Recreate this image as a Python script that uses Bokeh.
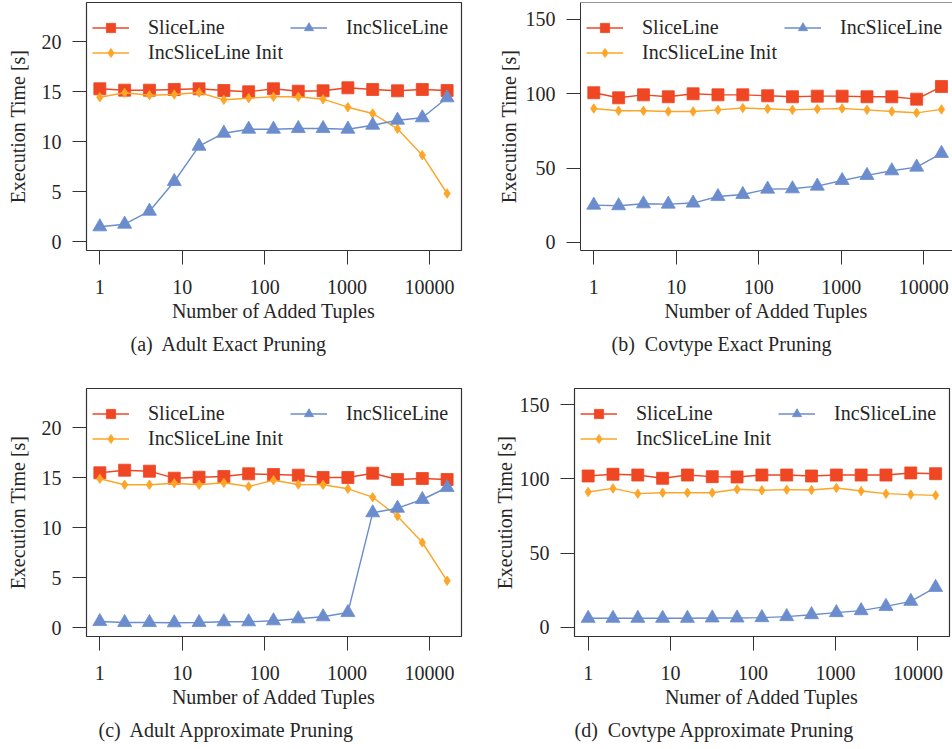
from bokeh.plotting import figure
from bokeh.layouts import column, row
from bokeh.models import (Range1d, FixedTicker, PrintfTickFormatter, Legend,
                          LegendItem, Title, Span)
from bokeh.embed import file_html
from bokeh.resources import INLINE

# ---------------- data ----------------
tuples = [1, 2, 4, 8, 16, 32, 64, 128, 256, 512, 1024, 2048, 4096, 8192, 16384]
x_ticks = [1, 10, 100, 1000, 10000]
y_ticks_adult = [0, 5, 10, 15, 20]
y_ticks_cov = [0, 50, 100, 150]

a_sliceline = [15.27, 15.13, 15.13, 15.2, 15.27, 15.1, 14.97, 15.27, 15.03, 15.07, 15.37, 15.2, 15.07, 15.2, 15.1]
a_init = [14.43, 14.87, 14.63, 14.7, 14.9, 14.17, 14.33, 14.47, 14.47, 14.23, 13.43, 12.8, 11.27, 8.63, 4.8]
a_inc = [1.47, 1.73, 3.03, 6.0, 9.53, 10.83, 11.23, 11.23, 11.3, 11.3, 11.23, 11.63, 12.13, 12.37, 14.37]

b_sliceline = [100.7, 97.3, 99.3, 98.0, 100.0, 99.3, 99.3, 98.65, 98.0, 98.4, 98.4, 98.0, 98.0, 96.4, 104.9]
b_init = [90.1, 88.6, 88.6, 88.1, 88.1, 89.2, 90.4, 89.9, 89.2, 89.7, 90.1, 89.2, 88.1, 87.2, 89.5]
b_inc = [25.1, 24.7, 26.0, 25.8, 26.5, 30.9, 32.3, 35.9, 36.1, 37.9, 41.7, 45.1, 48.2, 50.7, 59.9]

c_sliceline = [15.47, 15.73, 15.63, 14.93, 15.03, 15.1, 15.37, 15.3, 15.23, 15.0, 15.0, 15.43, 14.8, 14.9, 14.8]
c_init = [14.87, 14.27, 14.27, 14.43, 14.27, 14.47, 14.1, 14.73, 14.3, 14.27, 13.87, 13.03, 11.13, 8.5, 4.67]
c_inc = [0.6, 0.5, 0.5, 0.47, 0.5, 0.57, 0.57, 0.67, 0.87, 1.07, 1.5, 11.47, 11.93, 12.8, 14.0]

d_sliceline = [101.95, 103.1, 102.6, 100.4, 102.6, 101.5, 101.3, 102.6, 102.6, 101.95, 102.6, 102.6, 102.6, 104.0, 103.5]
d_init = [91.2, 93.6, 90.05, 90.7, 90.7, 90.7, 93.0, 92.3, 92.75, 92.5, 93.9, 91.8, 90.05, 89.4, 88.9]
d_inc = [6.06, 6.06, 6.06, 6.06, 6.06, 6.29, 6.29, 6.5, 7.2, 8.5, 9.9, 11.2, 14.1, 17.5, 26.9]

series_names = ["SliceLine", "IncSliceLine Init", "IncSliceLine"]

# ---------------- style ----------------
FONT = "Liberation Serif"
TEXT = "#262626"
FRAME = "#333333"
RED = "#EF4623"
ORANGE = "#FCA526"
BLUE = "#6B8DCD"


def panel(s, init, inc, y_ticks, y_rng, x_rng, width, height, mb_left, mb_right,
          mb_bottom, xlabel, caption, cap_offset, cap_standoff, ylab_standoff,
          open_right=False):
    p = figure(width=width, height=height, x_axis_type="log",
               x_range=Range1d(*x_rng), y_range=Range1d(*y_rng),
               output_backend="svg", toolbar_location=None,
               min_border_left=mb_left, min_border_right=mb_right,
               min_border_top=2, min_border_bottom=mb_bottom)
    p.background_fill_color = "white"
    p.border_fill_color = "white"
    p.grid.visible = False
    if open_right:
        p.outline_line_color = None
    else:
        p.outline_line_color = FRAME
        p.outline_line_width = 1.2

    # x axis
    xa = p.xaxis[0]
    xa.ticker = FixedTicker(ticks=x_ticks, minor_ticks=[])
    xa.formatter = PrintfTickFormatter(format="%d")
    xa.major_tick_in = 0
    xa.major_tick_out = 14
    xa.minor_tick_in = 0
    xa.minor_tick_out = 0
    xa.major_tick_line_color = FRAME
    xa.axis_line_color = FRAME if open_right else None
    xa.major_label_standoff = 15
    xa.major_label_text_font = FONT
    xa.major_label_text_font_size = "20px"
    xa.major_label_text_color = TEXT
    xa.axis_label = xlabel
    xa.axis_label_standoff = 3
    xa.axis_label_text_font = FONT
    xa.axis_label_text_font_size = "20px"
    xa.axis_label_text_font_style = "normal"
    xa.axis_label_text_color = TEXT

    # y axis
    ya = p.yaxis[0]
    ya.ticker = FixedTicker(ticks=y_ticks, minor_ticks=[])
    ya.major_tick_in = 0
    ya.major_tick_out = 14
    ya.minor_tick_in = 0
    ya.minor_tick_out = 0
    ya.major_tick_line_color = FRAME
    ya.axis_line_color = FRAME if open_right else None
    ya.major_label_standoff = 11
    ya.major_label_text_font = FONT
    ya.major_label_text_font_size = "20px"
    ya.major_label_text_color = TEXT
    ya.axis_label = "Execution Time [s]"
    ya.axis_label_standoff = ylab_standoff
    ya.axis_label_text_font = FONT
    ya.axis_label_text_font_size = "20px"
    ya.axis_label_text_font_style = "normal"
    ya.axis_label_text_color = TEXT

    if open_right:
        p.add_layout(Span(location=y_rng[1], dimension="width",
                          line_color=FRAME, line_width=1.2))

    renderers = []
    for ys, color, marker, size in [
            (s, RED, "square", 12),
            (init, ORANGE, "diamond", 9.5),
            (inc, BLUE, "triangle", 14)]:
        ln = p.line(tuples, ys, line_color=color, line_width=1.4)
        sc = p.scatter(tuples, ys, marker=marker, size=size,
                       fill_color=color, line_color=color, line_width=0.8)
        renderers.append([ln, sc])

    items = [LegendItem(label=name, renderers=r)
             for name, r in zip(series_names, renderers)]
    leg = Legend(items=items, location=(6, 186), ncols=2, orientation="vertical",
                 glyph_width=37, glyph_height=23, label_height=23,
                 label_width=140, label_standoff=19, spacing=2, padding=0,
                 margin=0, border_line_color=None, background_fill_alpha=0,
                 label_text_font=FONT, label_text_font_size="20px",
                 label_text_color=TEXT)
    p.add_layout(leg, "center")

    cap = Title(text=caption, align="left", offset=cap_offset, standoff=cap_standoff,
                text_font=FONT, text_font_size="20px",
                text_font_style="normal", text_color=TEXT)
    p.add_layout(cap, "below")
    return p


def xr(left_log, right_log):
    return (10 ** left_log, 10 ** right_log)


pa = panel(a_sliceline, a_init, a_inc, y_ticks_adult, (-0.9, 23.9), xr(-0.1618, 4.389),
           476, 386, 86, 15, 136, "Number of Added Tuples",
           "(a)\u00a0 Adult Exact Pruning", 44, 13, 10)
pb = panel(b_sliceline, b_init, b_inc, y_ticks_cov, (-5.4, 161.4), xr(-0.161, 4.348),
           476, 386, 104, 0, 136, "Number of Added Tuples",
           "(b)\u00a0 Covtype Exact Pruning", 31, 13, 3, open_right=True)
pc = panel(c_sliceline, c_init, c_inc, y_ticks_adult, (-0.9, 23.9), xr(-0.1618, 4.389),
           476, 363, 86, 15, 113, "Number of Added Tuples",
           "(c)\u00a0 Adult Approximate Pruning", 12, 12, 10)
pd = panel(d_sliceline, d_init, d_inc, y_ticks_cov, (-6.2, 160.9), xr(-0.1657, 4.383),
           476, 363, 98, 3, 113, "Numer of Added Tuples",
           "(d)\u00a0 Covtype Approximate Pruning", 0, 12, 1)

layout = column(row(pa, pb, spacing=0), row(pc, pd, spacing=0), spacing=0)

with open("out.html", "w") as f:
    f.write(file_html(layout, INLINE))
